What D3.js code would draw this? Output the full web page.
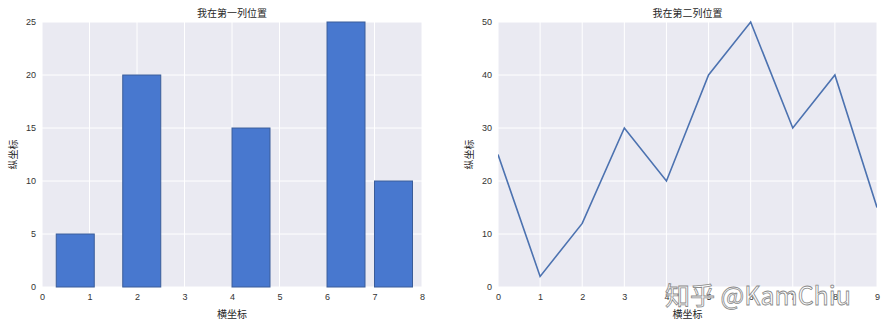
<!DOCTYPE html>
<html>
<head>
<meta charset="utf-8">
<script src="https://cdn.jsdelivr.net/npm/d3@7"></script>
<style>
  body { margin: 0; background: #fff; }
  svg { display: block; font-family: "Noto Sans CJK SC", "DejaVu Sans", sans-serif; }
  .grid line { stroke: #fff; stroke-width: 1; }
  .tick text { fill: #333; font-size: 9px; }
</style>
</head>
<body>
<div id="chart"></div>
<script>
// left panel: bars
var barX = [0.3, 1.7, 4, 6, 7];
var barH = [5, 20, 15, 25, 10];
var barW = 0.8;
var leftXTicks = [0, 1, 2, 3, 4, 5, 6, 7, 8];
var leftYTicks = [0, 5, 10, 15, 20, 25];

// right panel: line
var lineX = [0, 1, 2, 3, 4, 5, 6, 7, 8, 9];
var lineY = [25, 2, 12, 30, 20, 40, 50, 30, 40, 15];
var rightXTicks = [0, 1, 2, 3, 4, 5, 6, 7, 8, 9];
var rightYTicks = [0, 10, 20, 30, 40, 50];

var titles = ["我在第一列位置", "我在第二列位置"];
var xLabel = "横坐标", yLabel = "纵坐标";

var svg = d3.select("#chart").append("svg")
    .attr("width", 888)
    .attr("height", 328);

// draws background, grid, ticks and labels for one panel, returns the scales
function panel(left, right, top, bottom, xDom, yDom, xTicks, yTicks, title) {
    var x = d3.scaleLinear().domain(xDom).range([left, right]);
    var y = d3.scaleLinear().domain(yDom).range([bottom, top]);
    var g = svg.append("g");

    g.append("rect")
        .attr("x", left).attr("y", top)
        .attr("width", right - left).attr("height", bottom - top)
        .attr("fill", "#EAEAF2");

    var grid = g.append("g").attr("class", "grid");
    grid.selectAll(".vx").data(xTicks).enter().append("line")
        .attr("x1", function(d) { return x(d); }).attr("x2", function(d) { return x(d); })
        .attr("y1", top).attr("y2", bottom);
    grid.selectAll(".hy").data(yTicks).enter().append("line")
        .attr("x1", left).attr("x2", right)
        .attr("y1", function(d) { return y(d); }).attr("y2", function(d) { return y(d); });

    var xa = g.append("g")
        .attr("transform", "translate(0," + bottom + ")")
        .call(d3.axisBottom(x).tickValues(xTicks).tickSize(0).tickPadding(7).tickFormat(d3.format("d")));
    xa.select(".domain").remove();

    var ya = g.append("g")
        .attr("transform", "translate(" + left + ",0)")
        .call(d3.axisLeft(y).tickValues(yTicks).tickSize(0).tickPadding(6).tickFormat(d3.format("d")));
    ya.select(".domain").remove();

    g.append("text")
        .attr("x", (left + right) / 2).attr("y", 17)
        .attr("text-anchor", "middle")
        .style("font-size", "10px").attr("fill", "#262626")
        .text(title);

    g.append("text")
        .attr("x", (left + right) / 2).attr("y", 318)
        .attr("text-anchor", "middle")
        .style("font-size", "10px").attr("fill", "#262626")
        .text(xLabel);

    g.append("text")
        .attr("transform", "translate(" + (left - 25) + "," + ((top + bottom) / 2) + ") rotate(-90)")
        .attr("text-anchor", "middle")
        .style("font-size", "10px").attr("fill", "#262626")
        .text(yLabel);

    return { x: x, y: y, g: g };
}

var p1 = panel(42, 422, 22, 287, [0, 8], [0, 25], leftXTicks, leftYTicks, titles[0]);
p1.g.append("g").selectAll("rect")
    .data(barX)
    .enter().append("rect")
    .attr("x", function(d) { return p1.x(d); })
    .attr("y", function(d, i) { return p1.y(barH[i]); })
    .attr("width", function(d) { return p1.x(d + barW) - p1.x(d); })
    .attr("height", function(d, i) { return p1.y(0) - p1.y(barH[i]); })
    .attr("fill", "#4878CF")
    .attr("stroke", "#3a5c99")
    .attr("stroke-width", 1);

var p2 = panel(498, 877, 22, 287, [0, 9], [0, 50], rightXTicks, rightYTicks, titles[1]);
var clipId = "clip2";
svg.append("clipPath").attr("id", clipId).append("rect")
    .attr("x", 498).attr("y", 20).attr("width", 379).attr("height", 269);
p2.g.append("path")
    .datum(lineX.map(function(d, i) { return [d, lineY[i]]; }))
    .attr("clip-path", "url(#" + clipId + ")")
    .attr("fill", "none")
    .attr("stroke", "#4C72B0")
    .attr("stroke-width", 1.6)
    .attr("stroke-linejoin", "miter")
    .attr("d", d3.line()
        .x(function(d) { return p2.x(d[0]); })
        .y(function(d) { return p2.y(d[1]); }));

// watermark
svg.append("text")
    .attr("x", 665).attr("y", 305)
    .style("font-size", "25px")
    .attr("fill", "#fff")
    .attr("fill-opacity", 0.85)
    .attr("stroke", "#8a8a8a")
    .attr("stroke-width", 0.8)
    .text("知乎 @KamChiu");
</script>
</body>
</html>
